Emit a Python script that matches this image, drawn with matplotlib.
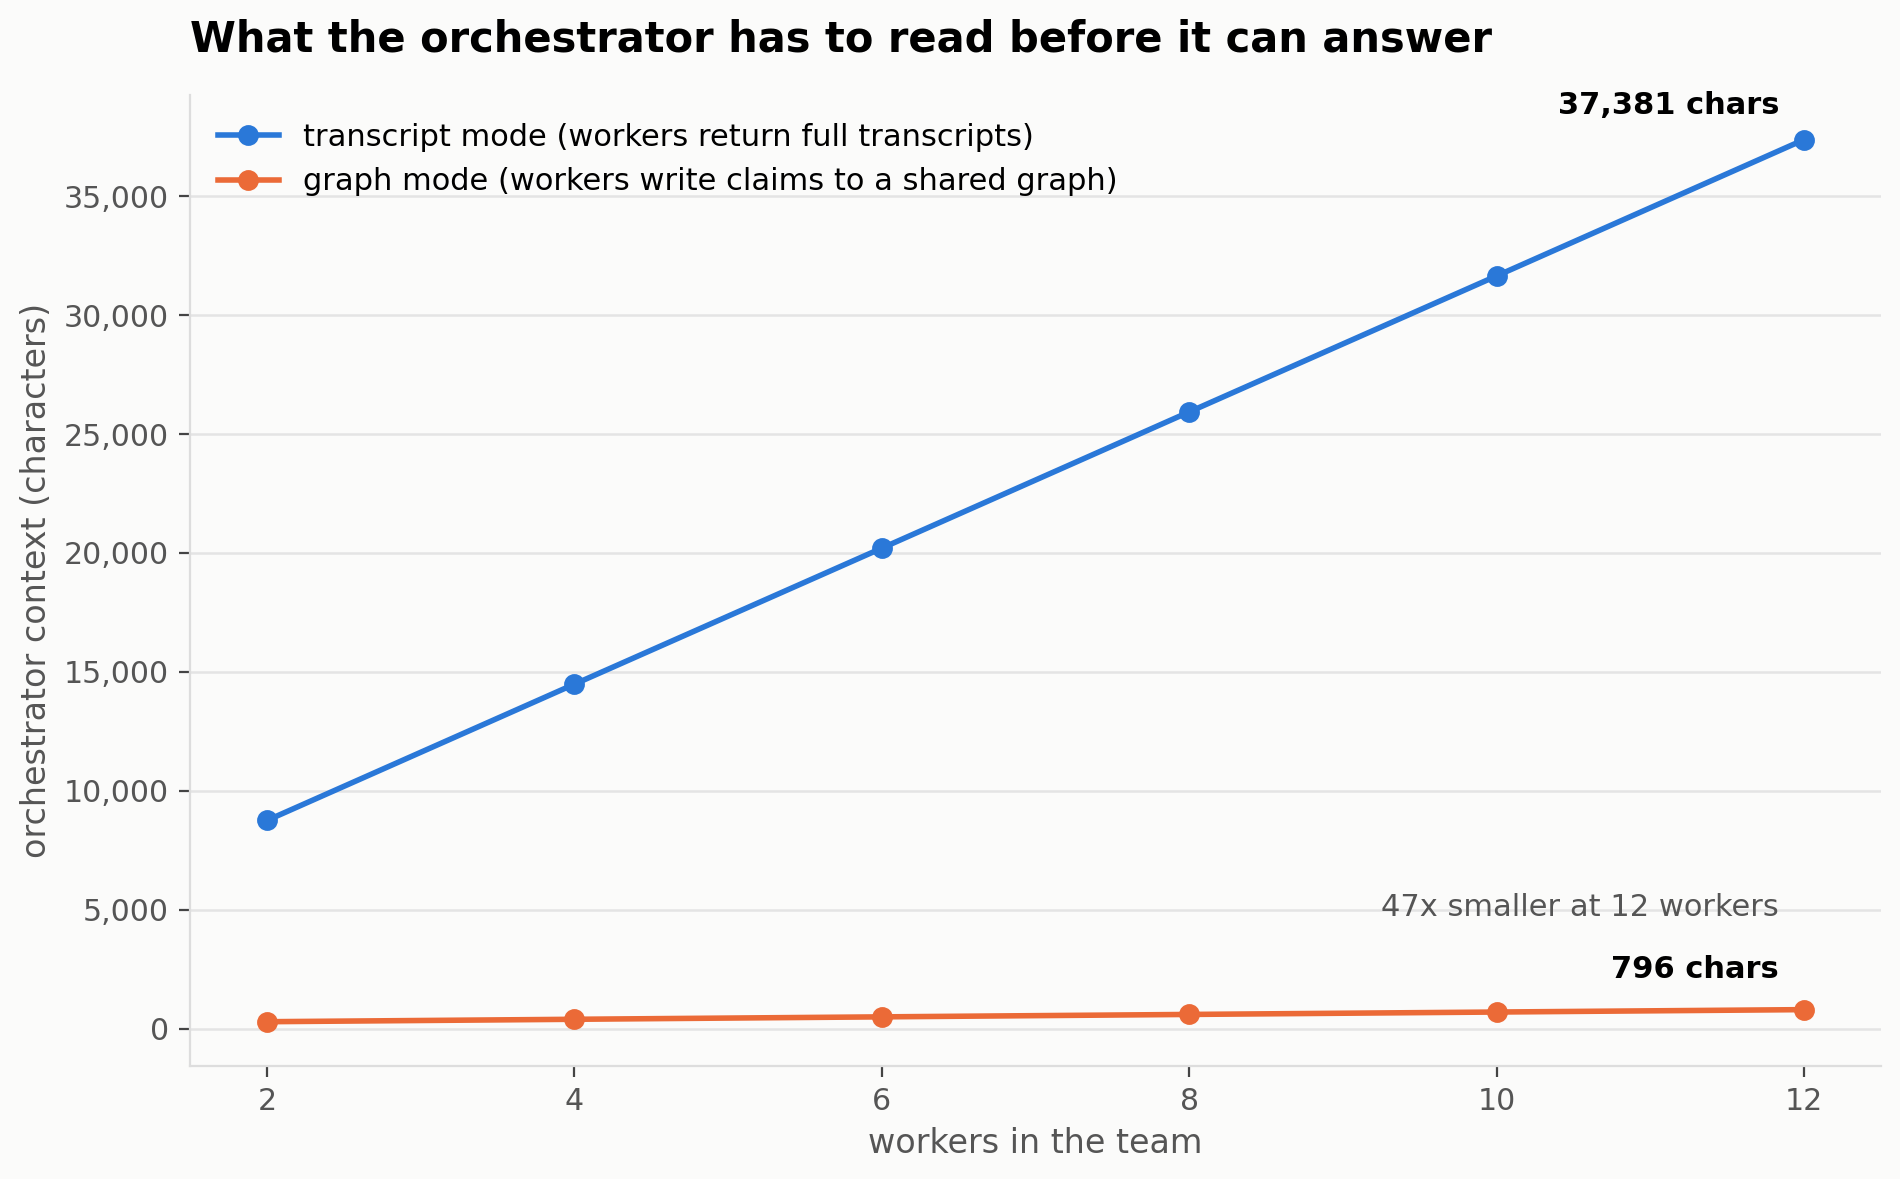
import matplotlib
matplotlib.use("Agg")
import matplotlib.pyplot as plt
from matplotlib.ticker import FuncFormatter

workers = [2, 4, 6, 8, 10, 12]
transcript_chars = [8750, 14480, 20200, 25930, 31650, 37381]
graph_chars = [288, 390, 492, 594, 695, 796]

transcript_label = "transcript mode (workers return full transcripts)"
graph_label = "graph mode (workers write claims to a shared graph)"
title = "What the orchestrator has to read before it can answer"
xlabel = "workers in the team"
ylabel = "orchestrator context (characters)"
ratio_note = "47x smaller at 12 workers"

BLUE = "#2a78d8"
ORANGE = "#eb6a37"
BG = "#fbfbfa"
GRAY = "#555555"

fig, ax = plt.subplots(figsize=(9.5, 5.895), dpi=200)
fig.patch.set_facecolor(BG)
ax.set_facecolor(BG)

ax.plot(workers, transcript_chars, color=BLUE, lw=2.0, marker="o", ms=6.5, label=transcript_label, zorder=3)
ax.plot(workers, graph_chars, color=ORANGE, lw=2.0, marker="o", ms=6.5, label=graph_label, zorder=3)

ax.yaxis.set_major_formatter(FuncFormatter(lambda v, p: f"{int(v):,}"))
ax.set_xticks(workers)
ax.grid(axis="y", color="#e4e4e4", lw=0.9)
ax.set_axisbelow(True)
for s in ["top", "right"]:
    ax.spines[s].set_visible(False)
for s in ["left", "bottom"]:
    ax.spines[s].set_color("#dddddd")
ax.tick_params(colors=GRAY, labelsize=10.8, length=4, width=0.8)
ax.tick_params(axis="both", color="#444444")

ax.set_xlabel(xlabel, fontsize=12, color=GRAY)
ax.set_ylabel(ylabel, fontsize=12, color=GRAY)
ax.set_title(title, loc="left", fontsize=15, fontweight="bold", pad=16)

ax.annotate(f"{transcript_chars[-1]:,} chars", (workers[-1], transcript_chars[-1]),
            xytext=(-9, 12.3), textcoords="offset points", ha="right", va="center",
            fontsize=11, fontweight="bold")
ax.annotate(f"{graph_chars[-1]:,} chars", (workers[-1], graph_chars[-1]),
            xytext=(-9, 14.3), textcoords="offset points", ha="right", va="center",
            fontsize=11, fontweight="bold")
ax.annotate(ratio_note, (workers[-1], graph_chars[-1]),
            xytext=(-9, 36.6), textcoords="offset points", ha="right", va="center",
            fontsize=11, color=GRAY)

ax.legend(loc="upper left", frameon=False, fontsize=11)

fig.subplots_adjust(left=0.1, right=0.99, top=0.919, bottom=0.096)
fig.savefig("out.png", dpi=200, facecolor=BG)
